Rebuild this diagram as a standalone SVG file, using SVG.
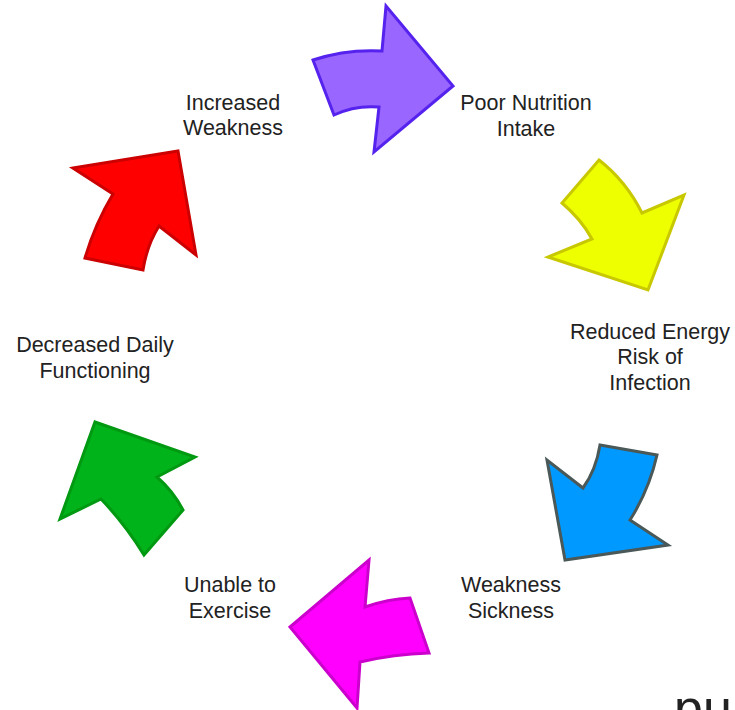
<svg xmlns="http://www.w3.org/2000/svg" width="735" height="710" viewBox="0 0 735 710">
<style>
.lbl{font-family:"Liberation Sans",Arial,sans-serif;font-size:21.5px;fill:#222;text-anchor:middle}
.arr{stroke-width:3;stroke-linejoin:miter}
</style>
<rect width="735" height="710" fill="#fff"/>
<g id="connectors">
<path class="arr" fill="#9966ff" stroke="#5522ee" d="M313,60 Q346,49 382,51 L386,6 L453,86 L374,152 L379,107 Q355,105 334,115 Z"/>
<path class="arr" fill="#eeff00" stroke="#c8c800" d="M599,160 Q626,181 642,213 L684,195 L648,290 L548,257 L592,239 Q581,219 562,203 Z"/>
<path class="arr" fill="#0099ff" stroke="#4a5858" d="M600,445 L657,455 Q649,490 630,520 L668,545 L565,560 L547,460 L583,488 Q596,470 600,445 Z"/>
<path class="arr" fill="#ff00ff" stroke="#cc00cc" d="M369,560 L365,607 Q388,599 410,598 L429,653 Q394,654 360,662 L357,708 L290,627 Z"/>
<path class="arr" fill="#00b31a" stroke="#009911" d="M95,422 L195,457 L157,477 Q173,491 183,510 L144,555 Q125,524 101,499 L60,519 Z"/>
<path class="arr" fill="#ff0000" stroke="#cc0000" d="M73,168 L178,151 L196,255 L159,226 Q147,245 143,270 L85,258 Q95,224 113,194 Z"/>
</g>
<g id="node-increased-weakness"><text class="lbl" x="233" y="110">Increased</text><text class="lbl" x="233" y="135">Weakness</text></g>
<g id="node-poor-nutrition"><text class="lbl" x="526" y="110">Poor Nutrition</text><text class="lbl" x="526" y="136">Intake</text></g>
<g id="node-reduced-energy"><text class="lbl" x="650" y="339">Reduced Energy</text><text class="lbl" x="650" y="364">Risk of</text><text class="lbl" x="650" y="390">Infection</text></g>
<g id="node-weakness-sickness"><text class="lbl" x="511" y="592">Weakness</text><text class="lbl" x="511" y="618">Sickness</text></g>
<g id="node-unable-exercise"><text class="lbl" x="230" y="592">Unable to</text><text class="lbl" x="230" y="618">Exercise</text></g>
<g id="node-decreased-daily"><text class="lbl" x="95" y="352">Decreased Daily</text><text class="lbl" x="95" y="378">Functioning</text></g>
<text x="674" y="726" font-family="Liberation Sans,Arial,sans-serif" font-size="52" fill="#222">pu</text>
</svg>
